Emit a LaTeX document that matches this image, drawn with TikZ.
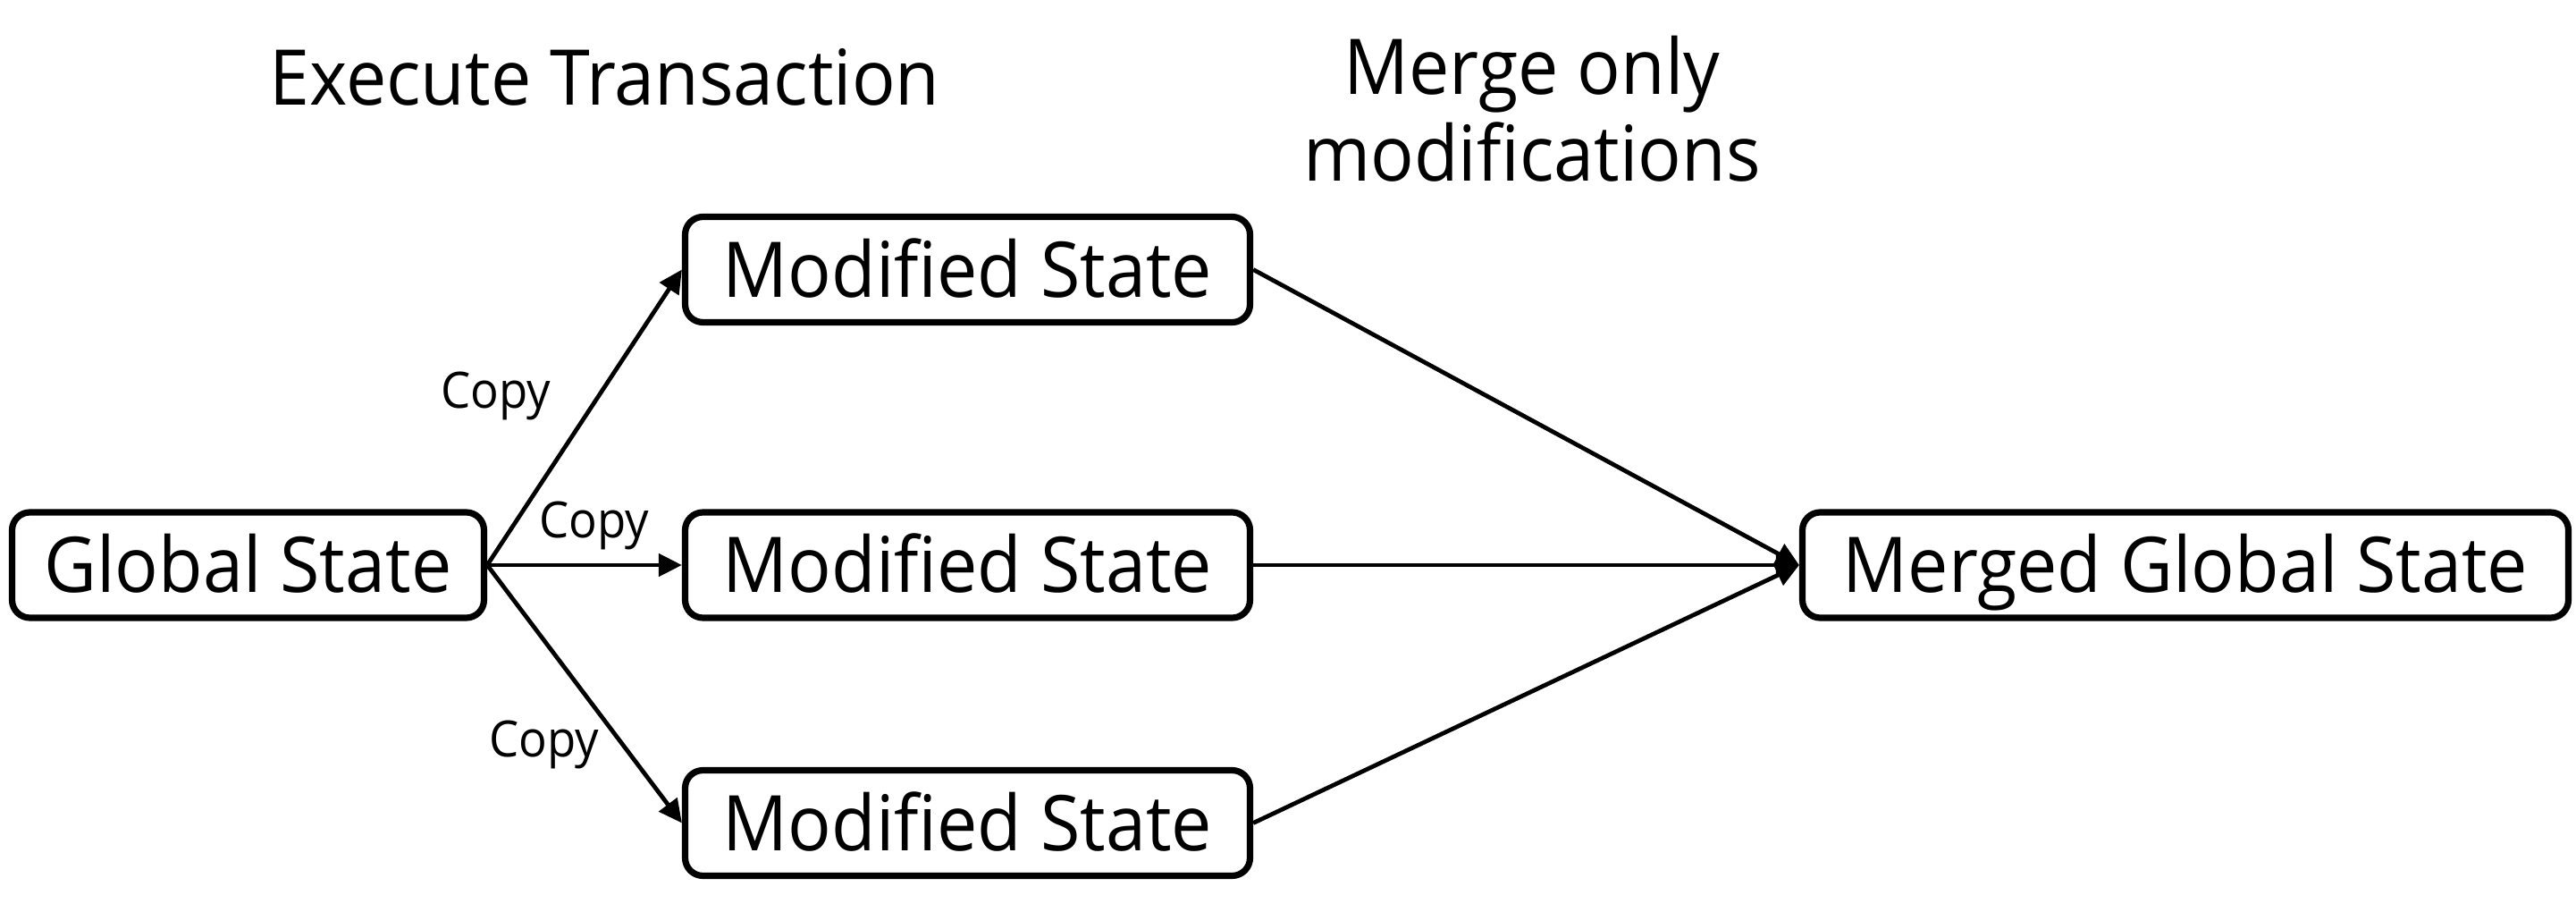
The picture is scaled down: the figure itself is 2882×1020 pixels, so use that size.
\documentclass[tikz,border=0pt]{standalone}
\usepackage{fontspec}
\setmainfont{Open Sans}[FakeStretch=0.94]
\usetikzlibrary{arrows.meta}
\begin{document}
\begin{tikzpicture}[x=0.5pt,y=-0.5pt,
  box/.style={draw=black, line width=3.6pt, rounded corners=10pt, minimum height=59pt,
    inner sep=0pt, text height=30.7pt, text depth=0pt, font=\fontsize{43}{50}\selectfont},
  conn/.style={line width=2.4pt, -{Triangle[length=13pt,width=12.5pt]}},
  lbl/.style={font=\fontsize{28}{32}\selectfont, anchor=base, inner sep=0pt},
  head/.style={font=\fontsize{43}{48.5}\selectfont, inner sep=0pt, align=center, anchor=base}]
\useasboundingbox (0,0) rectangle (2882,1020);
\fill[white] (0,0) rectangle (2882,1020);

\node[box, minimum width=264pt] (gs) at (277.5,632) {Global State};
\node[box, minimum width=316pt] (m1) at (1082.5,301.5) {Modified State};
\node[box, minimum width=316pt] (m2) at (1082.5,632) {Modified State};
\node[box, minimum width=316pt] (m3) at (1082.5,920.5) {Modified State};
\node[box, minimum width=428.5pt] (mg) at (2445,632) {Merged Global State};

\node[head] (h1) at (676.5,118) {Execute Transaction};
\node[head] (h2) at (1714,203) {Merge only\\modifications};

\draw[conn] (gs.east) -- (m1.west);
\draw[conn] (gs.east) -- (m2.west);
\draw[conn] (gs.east) -- (m3.west);
\draw[conn] (m1.east) -- (mg.west);
\draw[conn] (m2.east) -- (mg.west);
\draw[conn] (m3.east) -- (mg.west);

\node[lbl] (c1) at (555,457) {Copy};
\node[lbl] (c2) at (665,602) {Copy};
\node[lbl] (c3) at (609,847) {Copy};
\end{tikzpicture}
\end{document}
